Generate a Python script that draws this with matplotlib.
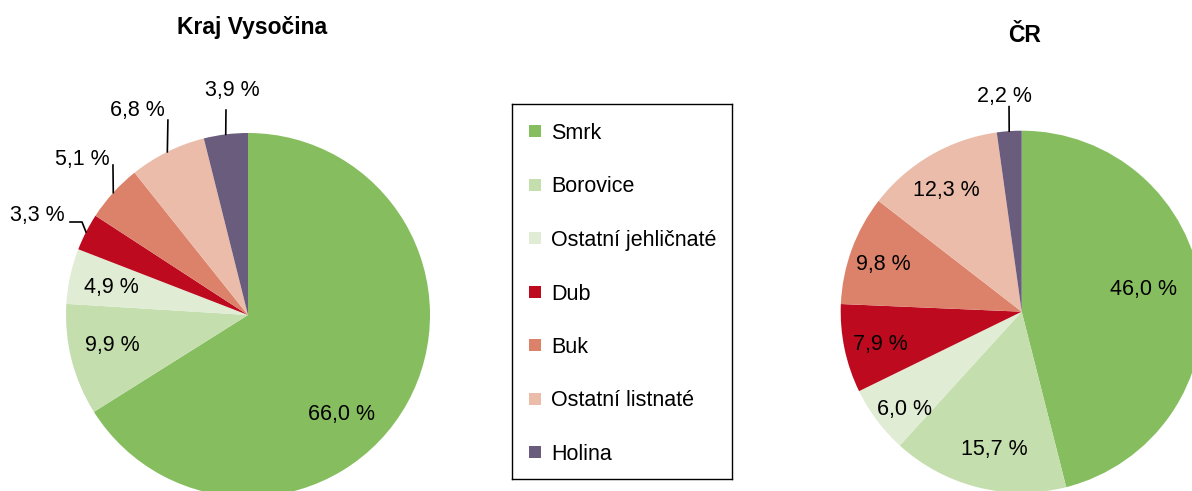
import matplotlib
matplotlib.use('Agg')
import matplotlib.pyplot as plt
import numpy as np

plt.rcParams['font.family'] = ['Liberation Sans', 'DejaVu Sans']

# data
categories = ['Smrk', 'Borovice', 'Ostatní jehličnaté', 'Dub', 'Buk',
              'Ostatní listnaté', 'Holina']
vysocina = [66.0, 9.9, 4.9, 3.3, 5.1, 6.8, 3.9]
cr = [46.0, 15.7, 6.0, 7.9, 9.8, 12.3, 2.2]
colors = ['#86BE5F', '#C4DEAE', '#E0ECD4', '#BE0A1E', '#DC826A', '#EBBCAA', '#6A5C7C']

# label placement (in pie radius units); None = inside label without leader
vys_label_pos = [(0.516, -0.533), (-0.747, -0.154), (-0.753, 0.165), (-1.155, 0.56),
                 (-0.912, 0.868), (-0.610, 1.140), (-0.088, 1.248)]
vys_leader = [None, None, None, [(-0.912, 0.511), (-0.978, 0.511)],
              [(-0.742, 0.824)], [(-0.440, 1.071)], [(-0.121, 1.126)]]
cr_label_pos = [(0.672, 0.138), (-0.153, -0.749), (-0.645, -0.525), (-0.783, -0.166),
                (-0.765, 0.273), (-0.414, 0.682), (-0.098, 1.201)]
cr_leader = [None, None, None, None, None, None, [(-0.070, 1.133)]]

W, H = 1192, 491
fig = plt.figure(figsize=(W / 100, H / 100), dpi=100)


def draw_pie(vals, cx, cy, r, label_pos, leaders, title, tx, ty):
    ax = fig.add_axes([(cx - r) / W, (H - cy - r) / H, 2 * r / W, 2 * r / H])
    wedges, _ = ax.pie(vals, colors=colors, startangle=90, counterclock=False,
                       wedgeprops=dict(linewidth=0), frame=True)
    ax.set_xlim(-1, 1)
    ax.set_ylim(-1, 1)
    ax.axis('off')
    for v, w, pos, lead in zip(vals, wedges, label_pos, leaders):
        txt = ('%.1f %%' % v).replace('.', ',')
        ax.text(pos[0], pos[1], txt, ha='center', va='center_baseline', fontsize=15.5)
        if lead:
            a = np.deg2rad((w.theta1 + w.theta2) / 2)
            xs = [np.cos(a)] + [p[0] for p in lead]
            ys = [np.sin(a)] + [p[1] for p in lead]
            ax.plot(xs, ys, color='black', lw=1.2, clip_on=False)
    fig.text(tx / W, 1 - ty / H, title, ha='center', va='center_baseline',
             fontsize=16.5, fontweight='bold')


draw_pie(vysocina, 248, 315, 182, vys_label_pos, vys_leader, 'Kraj Vysočina', 252, 25)
draw_pie(cr, 1021.7, 311.7, 181, cr_label_pos, cr_leader, 'ČR', 1025, 33)

# legend box
lx0, ly0, lw, lh = 512, 104, 220, 375
lax = fig.add_axes([lx0 / W, (H - ly0 - lh) / H, lw / W, lh / H])
lax.set_xlim(0, lw)
lax.set_ylim(lh, 0)
lax.set_xticks([])
lax.set_yticks([])
for s in lax.spines.values():
    s.set_color('black')
    s.set_linewidth(1.0)
for i, (cat, c) in enumerate(zip(categories, colors)):
    yy = 27 + i * 53.5
    lax.scatter([22.5], [yy], marker='s', s=75, color=c, linewidths=0)
    lax.text(39, yy, cat, va='center_baseline', ha='left', fontsize=15.5)

fig.savefig('out.png', dpi=100)
